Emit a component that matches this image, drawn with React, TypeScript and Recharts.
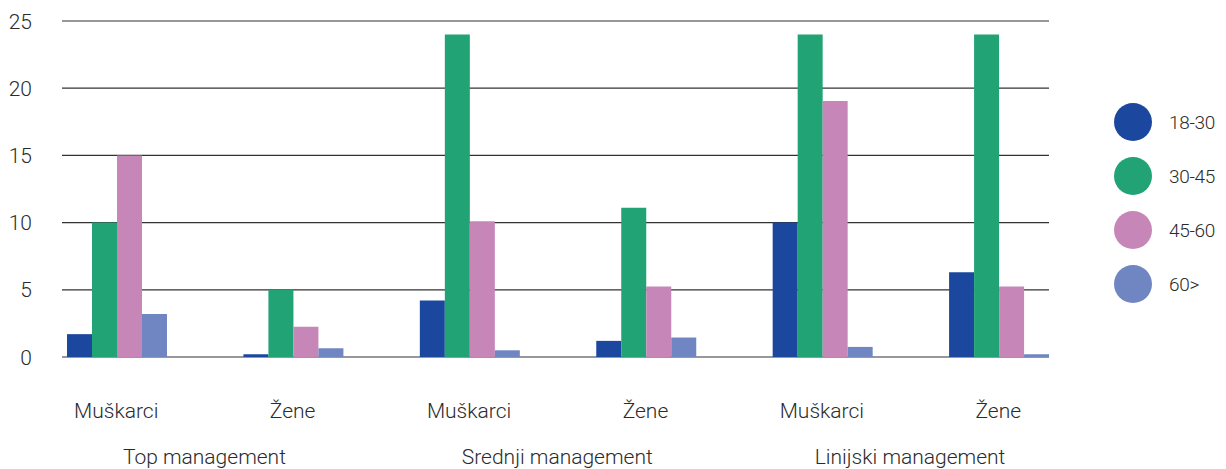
import React from "react";
import { BarChart, Bar, XAxis, YAxis, CartesianGrid } from "recharts";

const categories = ["Muškarci", "Žene", "Muškarci", "Žene", "Muškarci", "Žene"];
const groups = [
  "Top management",
  "Top management",
  "Srednji management",
  "Srednji management",
  "Linijski management",
  "Linijski management",
];
const age18to30 = [1.7, 0.2, 4.2, 1.2, 10, 6.3];
const age30to45 = [10, 5, 24, 11.1, 24, 24];
const age45to60 = [15, 2.25, 10.1, 5.25, 19.05, 5.25];
const age60plus = [3.2, 0.65, 0.5, 1.45, 0.75, 0.2];
const yTicks = [0, 5, 10, 15, 20, 25];

const seriesNames = ["18-30", "30-45", "45-60", "60>"];
const seriesKeys = ["a", "b", "c", "d"];
const seriesColors = ["#1B479E", "#21A375", "#C786B8", "#7086C2"];

const data = categories.map((label, i) => ({
  label,
  group: groups[i],
  a: age18to30[i],
  b: age30to45[i],
  c: age45to60[i],
  d: age60plus[i],
}));

const FONT = "Roboto, 'Noto Sans', sans-serif";
const TEXT = "#2b2b2b";

const YTick = (props: any) => {
  const { x, y, payload } = props;
  return (
    <text
      x={x + 4}
      y={y}
      dy="0.36em"
      textAnchor="end"
      fill={TEXT}
      fontSize={21}
      fontWeight={300}
      fontFamily={FONT}
    >
      {payload.value}
    </text>
  );
};

export default function App() {
  return (
    <div style={{ position: "relative", width: 1218, height: 461 }}>
      <style>{`body{overflow:hidden}`}</style>
      <BarChart
        width={1218}
        height={461}
        data={data}
        margin={{ top: 13, right: 139.5, bottom: 0, left: 0 }}
        barCategoryGap={39}
        barGap={0}
      >
        <CartesianGrid
          vertical={false}
          stroke="#333"
          strokeWidth={1.2}
          x={54}
          width={987}
        />
        <XAxis
          dataKey="label"
          axisLine={false}
          tickLine={false}
          tickSize={0}
          tickMargin={46}
          height={60}
          interval={0}
          tick={{ fill: TEXT, fontSize: 21, fontWeight: 300, fontFamily: FONT }}
        />
        <XAxis
          xAxisId="group"
          dataKey="group"
          allowDuplicatedCategory={false}
          axisLine={false}
          tickLine={false}
          tickSize={0}
          tickMargin={32}
          height={52}
          interval={0}
          tick={{ fill: TEXT, fontSize: 21, fontWeight: 300, fontFamily: FONT }}
        />
        <YAxis
          width={20}
          domain={[0, 25]}
          ticks={yTicks}
          axisLine={false}
          tickLine={false}
          tickSize={0}
          tickMargin={0}
          tick={<YTick />}
        />
        {seriesKeys.map((k, i) => (
          <Bar
            key={k}
            dataKey={k}
            name={seriesNames[i]}
            fill={seriesColors[i]}
            isAnimationActive={false}
          />
        ))}
      </BarChart>
      <div
        style={{
          position: "absolute",
          left: 1106,
          top: 87,
          width: 112,
          whiteSpace: "nowrap",
        }}
      >
        {seriesNames.map((n, i) => (
          <div
            key={n}
            style={{ display: "flex", alignItems: "center", height: 54 }}
          >
            <div
              style={{
                width: 38,
                height: 38,
                flex: "none",
                borderRadius: "50%",
                background: seriesColors[i],
              }}
            />
            <span
              style={{
                marginLeft: 17,
                fontFamily: FONT,
                fontWeight: 300,
                fontSize: 19,
                letterSpacing: "-0.3px",
                color: TEXT,
              }}
            >
              {n}
            </span>
          </div>
        ))}
      </div>
    </div>
  );
}
